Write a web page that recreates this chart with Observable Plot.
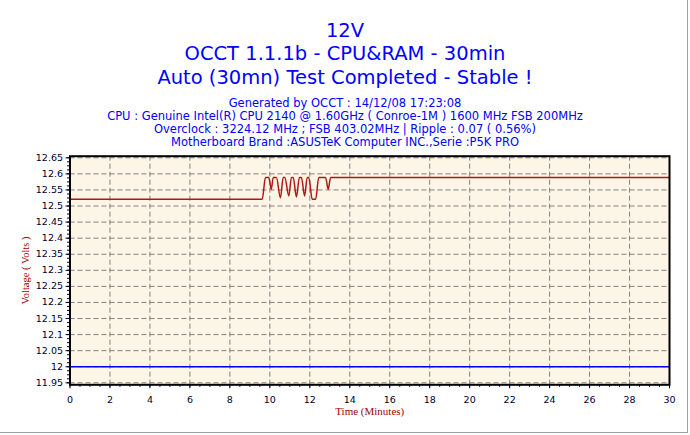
<!DOCTYPE html>
<html>
<head>
<meta charset="utf-8">
<script src="https://cdn.jsdelivr.net/npm/d3@7"></script>
<script src="https://cdn.jsdelivr.net/npm/@observablehq/plot@0.6"></script>
<style>
  html, body { margin: 0; padding: 0; background: #ffffff; }
  #page { position: relative; width: 690px; height: 435px; overflow: hidden; }
  #head { position: relative; width: 690px; height: 150px; }
  .t { position: absolute; left: 0; width: 690px; text-align: center; color: #0000ff; font-family: "DejaVu Sans", sans-serif; white-space: nowrap; }
  .big { font-size: 19.5px; line-height: 23px; }
  .small { font-size: 11.5px; line-height: 13px; }
  #edge { position: absolute; left: 0; top: 0; width: 687px; height: 432px; border-right: 1px solid #a0a0a0; border-bottom: 1px solid #a0a0a0; pointer-events: none; }
  #chart svg { display: block; }
</style>
</head>
<body>
<div id="page">
  <div id="head"></div>
  <div id="chart"></div>
  <div id="edge"></div>
</div>
<script>
// ---- text ----
const titleLines = ["12V", "OCCT 1.1.1b - CPU&RAM - 30min", "Auto (30mn) Test Completed - Stable !"];
const subtitleLines = [
  "Generated by OCCT : 14/12/08 17:23:08",
  "CPU : Genuine Intel(R) CPU 2140 @ 1.60GHz ( Conroe-1M ) 1600 MHz FSB 200MHz",
  "Overclock : 3224.12 MHz ; FSB 403.02MHz | Ripple : 0.07 ( 0.56%)",
  "Motherboard Brand :ASUSTeK Computer INC.,Serie :P5K PRO"
];
const xLabel = "Time (Minutes)";
const yLabel = "Voltage ( Volts )";

// ---- data ----
const timeMinutes = [0, 9.62, 9.78, 9.95, 10.07, 10.17, 10.33, 10.53, 10.67, 10.75, 10.95, 11.08, 11.17, 11.33, 11.48, 11.58, 11.74, 11.87, 11.95, 12.12, 12.29, 12.45, 12.79, 12.92, 13.04, 30];
const voltage12V  = [12.521, 12.521, 12.589, 12.589, 12.552, 12.589, 12.589, 12.526, 12.589, 12.589, 12.531, 12.589, 12.589, 12.528, 12.589, 12.589, 12.531, 12.589, 12.589, 12.521, 12.521, 12.589, 12.589, 12.552, 12.589, 12.589];
const nominal = [12];

// ---- ticks ----
const xTicks = [0, 2, 4, 6, 8, 10, 12, 14, 16, 18, 20, 22, 24, 26, 28, 30];
const yTicks = [11.95, 12, 12.05, 12.1, 12.15, 12.2, 12.25, 12.3, 12.35, 12.4, 12.45, 12.5, 12.55, 12.6, 12.65];
const xMinor = d3.range(0, 61).map(i => i * 0.5);
const yMinor = d3.range(0, 57).map(i => 11.95 + i * 0.0125);

// header
const head = document.getElementById("head");
const titleTops = [19, 42.4, 65.7];
titleLines.forEach((s, i) => {
  const d = document.createElement("div");
  d.className = "t big"; d.style.top = titleTops[i] + "px"; d.textContent = s; head.appendChild(d);
});
const subTops = [96.5, 110.2, 122.8, 136.2];
subtitleLines.forEach((s, i) => {
  const d = document.createElement("div");
  d.className = "t small"; d.style.top = subTops[i] + "px"; d.textContent = s; head.appendChild(d);
});

const data = timeMinutes.map((t, i) => ({t, v: voltage12V[i]}));
const fmt = d => String(+d.toFixed(2));
const grid = {stroke: "#808080", strokeOpacity: 1, strokeWidth: 1, strokeDasharray: "5,3"};

const chart = Plot.plot({
  width: 690,
  height: 285,
  marginTop: 5.7,
  marginBottom: 50.7,
  marginLeft: 69.5,
  marginRight: 21,
  style: {background: "transparent", fontFamily: "DejaVu Sans, sans-serif", fontSize: "9.5px", color: "#000030"},
  x: {domain: [0, 30]},
  y: {domain: [11.9438, 12.655]},
  marks: [
    Plot.frame({fill: "#fdf5e6", stroke: null}),
    Plot.gridX(xTicks, grid),
    Plot.gridY(yTicks, grid),
    Plot.ruleY(nominal, {stroke: "#0000ff", strokeWidth: 1.5}),
    Plot.line(data, {x: "t", y: "v", stroke: "#b01818", strokeWidth: 1.5, curve: "monotone-x"}),
    Plot.frame({stroke: "#000000", strokeWidth: 2}),
    Plot.axisX(xTicks, {tickSize: 4, tickPadding: 7, tickFormat: fmt, label: null}),
    Plot.axisX(xMinor, {tickSize: 2.5, tickFormat: () => "", label: null}),
    Plot.axisY(yTicks, {tickSize: 4, tickPadding: 3, tickFormat: fmt, label: null}),
    Plot.axisY(yMinor, {tickSize: 2.5, tickFormat: () => "", label: null}),
    Plot.text([xLabel], {frameAnchor: "bottom", dy: 26.5, textAnchor: "middle", lineAnchor: "middle", fontFamily: "Liberation Serif, serif", fontSize: 11, fill: "#a00000"}),
    Plot.text([yLabel], {frameAnchor: "left", dx: -44, rotate: -90, textAnchor: "middle", lineAnchor: "middle", fontFamily: "Liberation Serif, serif", fontSize: 10.5, fill: "#a00000"})
  ]
});
document.getElementById("chart").appendChild(chart);
</script>
</body>
</html>
